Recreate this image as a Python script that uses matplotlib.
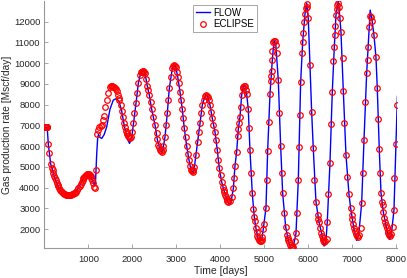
import matplotlib
matplotlib.use("Agg")
import matplotlib.pyplot as plt

# FLOW simulator result (days, Mscf/day)
flow_days = [0, 50, 70, 89, 112, 143, 180, 220, 260, 300, 355, 417, 469, 544, 622, 697,
             772, 849, 910, 977, 1030, 1077, 1114, 1145, 1165, 1191, 1212, 1230, 1265,
             1305, 1360, 1419, 1494, 1569, 1646, 1700, 1760, 1813, 1858, 1900, 1940,
             1990, 2030, 2086, 2139, 2190, 2240, 2291, 2343, 2389, 2444, 2519, 2571,
             2633, 2675, 2708, 2747, 2799, 2845, 2913, 2950, 2990, 3036, 3088, 3141,
             3186, 3241, 3293, 3339, 3380, 3414, 3452, 3491, 3544, 3596, 3635, 3680,
             3719, 3771, 3824, 3885, 3938, 3983, 4037, 4098, 4166, 4211, 4250, 4303,
             4341, 4379, 4416, 4455, 4493, 4530, 4560, 4607, 4644, 4682, 4735, 4780,
             4819, 4870, 4910, 4950, 4985, 5047, 5085, 5138, 5191, 5229, 5270, 5327,
             5381, 5427, 5495, 5555, 5616, 5669, 5730, 5783, 5837, 5883, 5935, 5973,
             6010, 6049, 6087, 6124, 6185, 6254, 6338, 6370, 6410, 6443, 6504, 6557,
             6603, 6641, 6693, 6730, 6755, 6808, 6869, 6937, 6976, 7050, 7112, 7160,
             7226, 7279, 7340, 7400, 7420, 7460, 7506, 7552, 7582, 7627, 7666, 7718,
             7795, 7856, 7900, 7962, 8007, 8040]
flow_rate = [6900, 6900, 6700, 6100, 5680, 5140, 4900, 4590, 4350, 4140, 3880, 3750, 3670,
             3640, 3670, 3750, 3960, 4280, 4530, 4650, 4600, 4450, 4230, 4100, 4300,
             5600, 6350, 6560, 6420, 6370, 6550, 6930, 7780, 8220, 8300, 8150, 7700,
             7050, 6620, 6300, 6130, 6450, 7100, 8060, 9030, 9500, 9640, 9510, 8900,
             8460, 7770, 7020, 6330, 5810, 5680, 5950, 6450, 7580, 8790, 9750, 9920,
             9830, 9350, 8620, 7770, 6860, 6000, 5330, 4850, 4700, 4950, 5570, 6210,
             7100, 7980, 8250, 8470, 8380, 7980, 7340, 6690, 5810, 4930, 4280, 3800,
             3370, 3180, 3300, 3960, 5050, 5730, 6810, 7420, 8460, 8870, 8930, 8510,
             7770, 5810, 3720, 2590, 2030, 1520, 1400, 1500, 2000, 3030, 5780, 8510,
             10150, 11100, 10900, 9190, 6000, 3720, 2110, 1450, 1070, 1150, 1790, 4360,
             9110, 11040, 12370, 12900, 12160, 9910, 7660, 5890, 3320, 2350, 1550, 1180,
             1350, 2350, 5170, 8620, 10790, 12320, 12990, 12200, 11490, 8670, 5570,
             3670, 3000, 2000, 1450, 1750, 3240, 6290, 9510, 11760, 12560, 12100, 11360,
             10280, 8790, 5850, 3750, 2830, 2030, 1500, 1700, 2920, 6100, 8400]

# ECLIPSE reference result (days, Mscf/day)
ecl_days = [0, 10, 20, 30, 40, 50, 60, 70, 89, 112, 143, 165, 185, 203, 222, 241, 260,
            280, 300, 317, 336, 355, 380, 400, 417, 440, 469, 490, 510, 530, 550, 570,
            590, 610, 630, 650, 670, 697, 720, 745, 772, 800, 825, 849, 870, 890, 910,
            930, 950, 970, 990, 1010, 1030, 1050, 1070, 1090, 1110, 1130, 1152, 1175,
            1205, 1230, 1251, 1280, 1305, 1327, 1364, 1380, 1419, 1455, 1494, 1515,
            1533, 1550, 1569, 1590, 1608, 1625, 1646, 1669, 1690, 1706, 1738, 1760,
            1783, 1813, 1836, 1858, 1875, 1888, 1905, 1920, 1940, 1965, 1988, 2025,
            2048, 2086, 2116, 2139, 2177, 2200, 2216, 2235, 2253, 2270, 2291, 2314,
            2343, 2366, 2389, 2421, 2444, 2480, 2519, 2558, 2571, 2594, 2610, 2633,
            2650, 2671, 2690, 2708, 2747, 2769, 2799, 2822, 2845, 2876, 2913, 2935,
            2952, 2970, 2990, 3013, 3036, 3065, 3088, 3111, 3141, 3163, 3186, 3218,
            3241, 3264, 3293, 3316, 3339, 3355, 3377, 3395, 3414, 3452, 3491, 3521,
            3544, 3566, 3596, 3635, 3660, 3680, 3700, 3719, 3749, 3771, 3794, 3824,
            3847, 3885, 3908, 3938, 3961, 3983, 4015, 4037, 4060, 4080, 4098, 4115,
            4129, 4150, 4166, 4189, 4227, 4265, 4303, 4325, 4341, 4379, 4400, 4416,
            4432, 4455, 4470, 4493, 4515, 4530, 4550, 4569, 4590, 4607, 4644, 4667,
            4682, 4705, 4735, 4758, 4780, 4796, 4819, 4835, 4849, 4870, 4887, 4905,
            4926, 4945, 4962, 4985, 5009, 5047, 5063, 5085, 5122, 5138, 5161, 5168,
            5176, 5191, 5195, 5213, 5235, 5252, 5270, 5300, 5327, 5350, 5381, 5404,
            5427, 5457, 5495, 5518, 5540, 5555, 5575, 5593, 5610, 5630, 5650, 5669,
            5700, 5730, 5760, 5783, 5805, 5821, 5837, 5860, 5883, 5897, 5913, 5935,
            5958, 5975, 5990, 6010, 6049, 6087, 6124, 6147, 6185, 6224, 6240, 6254,
            6277, 6299, 6320, 6338, 6355, 6375, 6400, 6429, 6443, 6466, 6504, 6527,
            6557, 6580, 6603, 6618, 6630, 6641, 6660, 6675, 6693, 6710, 6730, 6755,
            6793, 6808, 6830, 6869, 6884, 6937, 6976, 6995, 7010, 7030, 7050, 7070,
            7090, 7112, 7140, 7170, 7200, 7226, 7249, 7279, 7301, 7340, 7363, 7377,
            7400, 7415, 7431, 7460, 7506, 7552, 7582, 7604, 7627, 7643, 7666, 7690,
            7704, 7718, 7740, 7757, 7775, 7795, 7815, 7835, 7855, 7875, 7895, 7932,
            7962, 7969, 8007, 8037]
ecl_rate = [6900, 6900, 6900, 6900, 6900, 6900, 6900, 6900, 6100, 5680, 5140, 4950, 4850,
            4690, 4580, 4480, 4350, 4230, 4140, 4070, 3960, 3880, 3820, 3780, 3750,
            3710, 3670, 3660, 3650, 3640, 3640, 3645, 3650, 3665, 3680, 3700, 3720,
            3750, 3800, 3870, 3960, 4060, 4170, 4280, 4380, 4460, 4530, 4580, 4620,
            4650, 4660, 4650, 4620, 4570, 4480, 4370, 4200, 4050, 3960, 4830, 6570,
            6800, 6900, 6950, 7000, 7260, 7450, 7900, 8220, 8550, 8840, 8880, 8900,
            8890, 8865, 8830, 8790, 8740, 8670, 8460, 8330, 8220, 7980, 7710, 7420,
            7130, 6940, 6740, 6620, 6560, 6500, 6460, 6400, 6450, 6700, 7100, 7580,
            8060, 8550, 9030, 9430, 9560, 9590, 9620, 9600, 9560, 9510, 9220, 8900,
            8700, 8460, 8140, 7770, 7420, 7020, 6620, 6330, 6050, 5950, 5810, 5760,
            5730, 5800, 6000, 6450, 7020, 7580, 8220, 8790, 9350, 9750, 9880, 9910,
            9880, 9830, 9590, 9350, 9030, 8620, 8220, 7770, 7340, 6860, 6450, 6000,
            5620, 5330, 5040, 4850, 4780, 4760, 4850, 4980, 5570, 6210, 6690, 7100,
            7580, 7980, 8220, 8400, 8460, 8440, 8380, 8220, 7980, 7660, 7340, 7020,
            6690, 6290, 5810, 5330, 4930, 4600, 4280, 4040, 3900, 3800, 3650, 3560,
            3450, 3370, 3300, 3350, 3530, 3960, 4450, 5050, 5730, 6480, 6810, 7100,
            7420, 7870, 8460, 8800, 8870, 8910, 8910, 8700, 8510, 7770, 6860, 5810,
            4720, 3720, 2950, 2590, 2390, 2030, 1850, 1660, 1560, 1470, 1440, 1420,
            1480, 1630, 2000, 2240, 3030, 4360, 5780, 7180, 8510, 9140, 9400, 9640,
            10150, 10600, 11040, 11080, 11080, 10900, 10480, 9190, 7610, 6000, 4690,
            3720, 2760, 2110, 1710, 1550, 1470, 1350, 1230, 1130, 1110, 1120, 1150,
            1400, 1790, 2760, 4360, 5970, 7500, 9110, 10500, 11040, 11440, 12000,
            12370, 12650, 12850, 12700, 12160, 9910, 7660, 5890, 4360, 3320, 2680,
            2500, 2350, 2030, 1790, 1650, 1550, 1450, 1390, 1400, 1500, 2350, 3690,
            5170, 7070, 8620, 10120, 10790, 11360, 11800, 12320, 12600, 12800, 12900,
            12700, 12200, 11490, 10230, 8670, 7130, 5570, 4520, 3670, 3000, 2700,
            2500, 2250, 2050, 1900, 1750, 1650, 1600, 1700, 2050, 3240, 4690, 6290,
            8140, 9510, 10150, 10790, 11760, 12300, 12240, 12050, 11360, 10280, 8790,
            7290, 5850, 4690, 3750, 3300, 3160, 2830, 2550, 2350, 2200, 2030, 1900,
            1800, 1710, 1650, 1750, 2110, 2920, 4450, 6100, 7980]

plt.rcParams['font.family'] = ['Liberation Sans', 'DejaVu Sans']

fig = plt.figure(figsize=(4.07, 2.78), dpi=100)
ax = fig.add_axes([44.4 / 407, 29.7 / 278, 353.0 / 407, 247.3 / 278])

ax.plot(flow_days, flow_rate, color='b', linewidth=1.0, label='FLOW', zorder=2)
ax.plot(ecl_days, ecl_rate, linestyle='none', marker='o', markersize=4.0,
        markerfacecolor='none', markeredgecolor='r', markeredgewidth=0.9,
        label='ECLIPSE', zorder=3)

ax.set_xlim(0, 8040)
ax.set_ylim(1070, 13000)
ax.set_xticks(range(1000, 9000, 1000))
ax.set_yticks(range(2000, 13000, 1000))

for side in ['top', 'right']:
    ax.spines[side].set_visible(False)
for side in ['left', 'bottom']:
    ax.spines[side].set_color('#999999')
    ax.spines[side].set_linewidth(0.8)
ax.tick_params(direction='in', length=3, width=0.6, color='#999999',
               labelsize=6.8, labelcolor='#262626', pad=3)
ax.tick_params(axis='x', pad=5)

ax.set_xlabel('Time [days]', fontsize=7.5, color='#262626', labelpad=1)
ax.set_ylabel('Gas production rate [Mscf/day]', fontsize=7.3, color='#262626', labelpad=1)

leg = ax.legend(loc='upper left', bbox_to_anchor=(0.42, 0.985), borderaxespad=0,
                fontsize=7, handlelength=1.5, handletextpad=0.3, borderpad=0.3,
                labelspacing=0.15, fancybox=False, framealpha=1)
leg.get_frame().set_edgecolor('#999999')
leg.get_frame().set_linewidth(0.6)

fig.savefig('out.png', dpi=100)
